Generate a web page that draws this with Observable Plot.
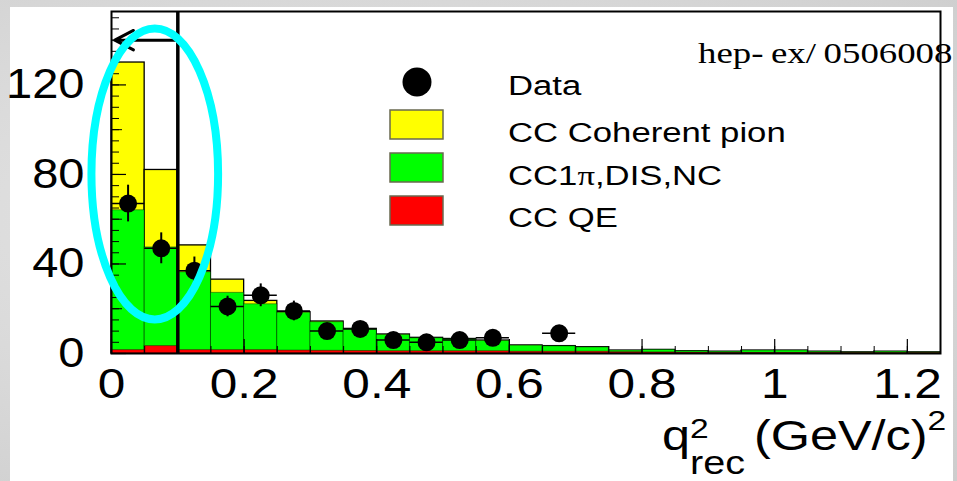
<!DOCTYPE html>
<html>
<head>
<meta charset="utf-8">
<script src="https://cdn.jsdelivr.net/npm/d3@7"></script>
<script src="https://cdn.jsdelivr.net/npm/@observablehq/plot@0.6"></script>
<style>
  html, body { margin: 0; padding: 0; }
  body {
    width: 957px; height: 481px; overflow: hidden;
    background: radial-gradient(ellipse at 35% 45%, #e6e6e6 0%, #d9d9d9 55%, #cdcdcd 100%);
  }
  #chart svg { display: block; }
</style>
</head>
<body>
<div id="chart"></div>
<script>
// Reconstructed q^2 bins, 0.05 (GeV/c)^2 wide
const binLow  = [0, 0.05, 0.1, 0.15, 0.2, 0.25, 0.3, 0.35, 0.4, 0.45, 0.5, 0.55, 0.6,
                 0.65, 0.7, 0.75, 0.8, 0.85, 0.9, 0.95, 1.0, 1.05, 1.1, 1.15, 1.2];
const binHigh = [0.05, 0.1, 0.15, 0.2, 0.25, 0.3, 0.35, 0.4, 0.45, 0.5, 0.55, 0.6, 0.65,
                 0.7, 0.75, 0.8, 0.85, 0.9, 0.95, 1.0, 1.05, 1.1, 1.15, 1.2, 1.25];

// Monte Carlo components (events per bin)
const ccQE       = [1.5, 3.3, 1.5, 1.5, 1.5, 1.3, 1.2, 1.1, 1.0, 1.0, 1.0, 1.0, 0.8,
                    0.8, 0.8, 0.6, 0.5, 0.4, 0.3, 0.3, 0.3, 0.3, 0.2, 0.2, 0.2];
const cc1piDisNc = [62.5, 44.1, 34.8, 25.6, 20.5, 16.9, 12.8, 9.7, 7.3, 5.8, 5.3, 4.6, 2.7,
                    2.4, 1.9, 0.7, 1.1, 0.6, 0.5, 1.0, 1.0, 0.5, 0.3, 0.6, 0.3];
const ccCoherent = [66, 34.6, 12, 5.9, 1.5, 0.3, 0.3, 0.2, 0.2, 0.2, 0.2, 0.2, 0.1,
                    0.1, 0.1, 0, 0, 0, 0, 0, 0, 0, 0, 0, 0];

// Observed events and their errors (null: empty bin, no marker)
const dataCounts = [67, 47, 37, 21, 26, 19, 10, 11, 6, 5, 6, 7, null, 9];
const dataErrors = [8.2, 6.9, 6.1, 4.6, 5.1, 4.4, 3.2, 3.3, 2.4, 2.2, 2.4, 2.6, null, 3.0];

// Axis ticks
const xTicks = [0, 0.2, 0.4, 0.6, 0.8, 1, 1.2];
const xMinorTicks = d3.range(0, 1.2501, 0.05);
const yTicks = [0, 40, 80, 120];
const yMidTicks = [20, 60, 100, 140];
const yMinorTicks = d3.range(0, 151, 5);

// Selection cut and highlighted region
const cutValue = 0.1;
const arrowTip = 0.005;
const arrowLevel = 140;
const ellipse = {cx: 0.066, cy: 80, rx: 0.0955, ry: 65};

const legendLabels = ["Data", "CC Coherent pion", "CC1\u03c0,DIS,NC", "CC QE"];
const legendColors = [null, "#ffff00", "#00ff00", "#ff0000"];

const W = 957, H = 481;
const mL = 111, mR = 17, mT = 11, mB = 128;
const plotW = W - mL - mR, plotH = H - mT - mB;

const bins = binLow.map((x1, i) => ({
  x1, x2: binHigh[i],
  qe: ccQE[i],
  other: ccQE[i] + cc1piDisNc[i],
  total: ccQE[i] + cc1piDisNc[i] + ccCoherent[i]
}));

const points = dataCounts
  .map((v, i) => ({x: (binLow[i] + binHigh[i]) / 2, x1: binLow[i], x2: binHigh[i], v, e: dataErrors[i]}))
  .filter(d => d.v != null);

const plot = Plot.plot({
  width: W, height: H,
  marginLeft: mL, marginRight: mR, marginTop: mT, marginBottom: mB,
  x: {domain: [0, 1.25]},
  y: {domain: [0, 152.8]},
  style: {background: "transparent", color: "black", fontFamily: "'Liberation Sans', Arial, Helvetica, sans-serif"},
  marks: [
    // stacked MC histogram, drawn as cumulative layers
    Plot.rect(bins, {x1: "x1", x2: "x2", y1: 0, y2: "total", fill: "#ffff00", stroke: "black", strokeWidth: 1.3}),
    Plot.rect(bins, {x1: "x1", x2: "x2", y1: 0, y2: "other", fill: "#00ff00", stroke: "black", strokeOpacity: 0.4, strokeWidth: 1}),
    Plot.rect(bins, {x1: "x1", x2: "x2", y1: 0, y2: "qe", fill: "#ff0000", stroke: "black", strokeOpacity: 0.4, strokeWidth: 1}),
    // q^2 cut
    Plot.ruleX([cutValue], {stroke: "black", strokeWidth: 3.5}),
    Plot.arrow([{x1: cutValue, x2: arrowTip, y: arrowLevel}], {
      x1: "x1", x2: "x2", y1: "y", y2: "y", stroke: "black", strokeWidth: 3, headLength: 14, headAngle: 55
    }),
    // data with error bars
    Plot.ruleY(points, {y: "v", x1: "x1", x2: "x2", stroke: "black", strokeWidth: 1.5}),
    Plot.ruleX(points, {x: "x", y1: d => d.v - d.e, y2: d => d.v + d.e, stroke: "black", strokeWidth: 2}),
    Plot.dot(points, {x: "x", y: "v", r: 9, fill: "black"}),
    // inward ticks
    Plot.ruleX(xMinorTicks, {stroke: "black", strokeWidth: 1, insetTop: plotH - 7}),
    Plot.ruleX(xTicks, {stroke: "black", strokeWidth: 1.2, insetTop: plotH - 14}),
    Plot.ruleY(yMinorTicks, {stroke: "black", strokeWidth: 1, insetRight: plotW - 8}),
    Plot.ruleY(yMidTicks, {stroke: "black", strokeWidth: 1, insetRight: plotW - 11}),
    Plot.ruleY(yTicks, {stroke: "black", strokeWidth: 1.2, insetRight: plotW - 15}),
    Plot.frame({stroke: "black", strokeWidth: 2}),
    Plot.axisX(xTicks, {tickSize: 0, tickPadding: 15, fontSize: 42, tickFormat: d => String(d), label: null}),
    Plot.axisY(yTicks, {tickSize: 0, tickPadding: 27, fontSize: 42, tickFormat: d => String(d), label: null})
  ]
});

document.getElementById("chart").appendChild(plot);
const svg = d3.select(plot);

// widen tick labels about their anchor point
function stretch(el, k) {
  const t = el.getAttribute("transform");
  if (t) el.setAttribute("transform", `${t} scale(${k},1)`);
  else {
    const x = +el.getAttribute("x") || 0;
    el.setAttribute("transform", `translate(${x},0) scale(${k},1) translate(${-x},0)`);
  }
}
svg.selectAll('g[aria-label="x-axis tick label"] text').each(function() { stretch(this, 1.18); });
svg.selectAll('g[aria-label="y-axis tick label"] text').each(function() { stretch(this, 1.12); });

// white page behind the plot
svg.insert("rect", ":first-child")
  .attr("x", 10).attr("y", 7).attr("width", 943).attr("height", 474).attr("fill", "white");

const sx = plot.scale("x"), sy = plot.scale("y");
const fx = sx.apply ? v => sx.apply(v) : d3.scaleLinear(sx.domain, sx.range);
const fy = sy.apply ? v => sy.apply(v) : d3.scaleLinear(sy.domain, sy.range);

// preprint reference, behind the frame line
const frameEl = plot.querySelector('[aria-label="frame"]');
const ref = document.createElementNS("http://www.w3.org/2000/svg", "g");
plot.insertBefore(ref, frameEl);
const refText = d3.select(ref).attr("transform", "translate(698,63) scale(1.27,1)")
  .append("text").attr("text-anchor", "start")
  .attr("font-family", "'Liberation Serif', 'Times New Roman', serif")
  .attr("font-size", 29).attr("fill", "black");
refText.append("tspan").text("hep-");
refText.append("tspan").attr("dx", 6).text("ex/");
refText.append("tspan").attr("dx", 6).text("0506008");

// legend
const leg = svg.append("g").attr("text-anchor", "start")
  .attr("font-family", "'Liberation Sans', Arial, sans-serif").attr("font-size", 28).attr("fill", "black");
const rowBaseline = [95, 142, 185, 227];
const boxTop = [null, 110, 153, 196];
leg.append("circle").attr("cx", 417).attr("cy", 82).attr("r", 14.5).attr("fill", "black");
legendColors.forEach((c, i) => {
  if (c) leg.append("rect").attr("x", 390).attr("y", boxTop[i]).attr("width", 53).attr("height", 29)
    .attr("fill", c).attr("stroke", "#6a6a50").attr("stroke-width", 1.5);
  const t = leg.append("g").attr("transform", `translate(508,${rowBaseline[i]}) scale(1.24,1)`)
    .append("text").attr("text-anchor", "start");
  if (legendLabels[i].includes("\u03c0")) {
    const [a, b] = legendLabels[i].split("\u03c0");
    t.append("tspan").text(a);
    t.append("tspan").attr("font-family", "'Liberation Serif', serif").text("\u03c0");
    t.append("tspan").text(b);
  } else t.text(legendLabels[i]);
});

// x-axis title: q^2_rec (GeV/c)^2
const title = svg.append("g").attr("transform", "translate(662,450) scale(1.2,1)")
  .append("text").attr("text-anchor", "start")
  .attr("font-family", "'Liberation Sans', Arial, sans-serif").attr("font-size", 42).attr("fill", "black");
title.append("tspan").attr("x", 0).text("q");
title.append("tspan").attr("x", 23.4).attr("dy", -12).attr("font-size", 28).text("2");
title.append("tspan").attr("x", 23.4).attr("dy", 36).attr("font-size", 33).text("rec");
title.append("tspan").attr("x", 76.7).attr("dy", -24).text("(GeV/c)");
title.append("tspan").attr("dy", -20).attr("font-size", 28).text("2");

// highlighted low-q^2 region
const ecx = fx(ellipse.cx), ecy = fy(ellipse.cy);
svg.append("ellipse")
  .attr("cx", ecx).attr("cy", ecy)
  .attr("rx", fx(ellipse.cx + ellipse.rx) - ecx)
  .attr("ry", fy(ellipse.cy - ellipse.ry) - ecy)
  .attr("fill", "none").attr("stroke", "#00ffff").attr("stroke-width", 8);
</script>
</body>
</html>
